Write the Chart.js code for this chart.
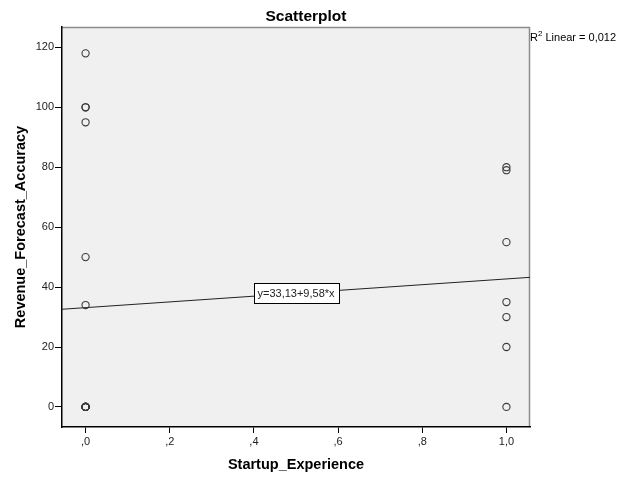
<!DOCTYPE html>
<html lang="en">
<head>
    <meta charset="UTF-8">
    <title>Scatterplot</title>
    <script src="https://cdn.jsdelivr.net/npm/chart.js"></script>
    <style>
        html, body { margin: 0; padding: 0; background: #fff; }
        #wrap { width: 628px; height: 477px; }
    </style>
</head>
<body>
    <div id="wrap"><canvas id="scatter-chart" width="628" height="477"></canvas></div>

    <script>
        // Startup_Experience (0 / 1) and Revenue_Forecast_Accuracy per case
        const startupExperience = [0, 0, 0, 0, 0, 0, 0, 0, 0, 0, 0, 0, 0, 0, 0,
                                   1, 1, 1, 1, 1, 1, 1];
        const forecastAccuracy  = [118, 100, 100, 95, 50, 34, 0, 0, 0, 0, 0, 0, 0, 0, 0,
                                   80, 79, 55, 35, 30, 20, 0];

        const xTickValues = [0, 0.2, 0.4, 0.6, 0.8, 1.0];
        const xTickLabels = [',0', ',2', ',4', ',6', ',8', '1,0'];
        const yTickValues = [0, 20, 40, 60, 80, 100, 120];

        const xMin = -0.056, xMax = 1.056;
        const yMin = -6.7, yMax = 126.8;

        // least squares fit
        function linearFit(xs, ys) {
            const n = xs.length;
            const mx = xs.reduce((a, b) => a + b, 0) / n;
            const my = ys.reduce((a, b) => a + b, 0) / n;
            let sxy = 0, sxx = 0, syy = 0;
            for (let i = 0; i < n; i++) {
                sxy += (xs[i] - mx) * (ys[i] - my);
                sxx += (xs[i] - mx) ** 2;
                syy += (ys[i] - my) ** 2;
            }
            const b = sxy / sxx;
            return { a: my - b * mx, b: b, r2: (sxy * sxy) / (sxx * syy) };
        }

        const fit = linearFit(startupExperience, forecastAccuracy);
        const comma = (v, d) => v.toFixed(d).replace('.', ',');
        const eqText = 'y=' + comma(fit.a, 2) + '+' + comma(fit.b, 2) + '*x';
        const r2Text = comma(fit.r2, 3);

        const points = startupExperience.map((x, i) => ({ x: x, y: forecastAccuracy[i] }));
        const fitLine = [xMin, xMax].map(x => ({ x: x, y: fit.a + fit.b * x }));

        const FONT = '"Liberation Sans", Arial, sans-serif';

        const decorations = {
            id: 'decorations',
            beforeDraw(chart) {
                const { ctx, chartArea: a } = chart;
                ctx.save();
                ctx.fillStyle = '#f0f0f0';
                ctx.fillRect(a.left, a.top, a.right - a.left, a.bottom - a.top);
                ctx.strokeStyle = '#8c8c8c';
                ctx.lineWidth = 1.5;
                ctx.beginPath();
                ctx.moveTo(a.left, a.top + 0.5);
                ctx.lineTo(a.right - 0.5, a.top + 0.5);
                ctx.lineTo(a.right - 0.5, a.bottom);
                ctx.stroke();
                ctx.restore();
            },
            afterDraw(chart) {
                const { ctx, chartArea: a, scales } = chart;
                const cx = (a.left + a.right) / 2;
                ctx.save();
                ctx.fillStyle = '#000';

                ctx.font = 'bold 15.5px ' + FONT;
                ctx.textAlign = 'center';
                ctx.textBaseline = 'alphabetic';
                ctx.fillText('Scatterplot', 306, 21);

                ctx.font = 'bold 14.5px ' + FONT;
                ctx.fillText('Startup_Experience', cx, 469);

                ctx.save();
                ctx.translate(24.5, (a.top + a.bottom) / 2);
                ctx.rotate(-Math.PI / 2);
                ctx.fillText('Revenue_Forecast_Accuracy', 0, 0);
                ctx.restore();

                // R2 annotation
                ctx.textAlign = 'left';
                ctx.font = '11px ' + FONT;
                ctx.fillText('R', a.right, 41);
                let x = a.right + ctx.measureText('R').width;
                ctx.font = '8px ' + FONT;
                ctx.fillText('2', x, 36);
                x += ctx.measureText('2').width;
                ctx.font = '11px ' + FONT;
                ctx.fillText(' Linear = ' + r2Text, x, 41);

                // equation box on the fit line
                const ex = scales.x.getPixelForValue(0.5);
                const ey = scales.y.getPixelForValue(fit.a + fit.b * 0.5);
                ctx.font = '11px ' + FONT;
                const w = Math.round(ctx.measureText(eqText).width + 8);
                const h = 20;
                const bx = Math.round(ex - w / 2) + 0.5, by = Math.round(ey - h / 2) + 0.5;
                ctx.fillStyle = '#fff';
                ctx.fillRect(bx, by, w, h);
                ctx.strokeStyle = '#000';
                ctx.lineWidth = 1;
                ctx.strokeRect(bx, by, w, h);
                ctx.fillStyle = '#222';
                ctx.textAlign = 'center';
                ctx.textBaseline = 'middle';
                ctx.fillText(eqText, ex, ey + 1);
                ctx.restore();
            }
        };

        new Chart(document.getElementById('scatter-chart'), {
            type: 'scatter',
            data: {
                datasets: [{
                    type: 'line',
                    data: fitLine,
                    borderColor: '#222',
                    borderWidth: 1,
                    pointRadius: 0,
                    fill: false,
                    order: 2
                }, {
                    data: points,
                    pointStyle: 'circle',
                    pointRadius: 3.6,
                    borderColor: '#3a3a3a',
                    borderWidth: 1.1,
                    backgroundColor: 'rgba(0,0,0,0)',
                    order: 1
                }]
            },
            options: {
                responsive: false,
                animation: false,
                layout: { padding: { top: 27, right: 98, left: 0, bottom: 0 } },
                plugins: {
                    legend: { display: false },
                    tooltip: { enabled: false }
                },
                scales: {
                    x: {
                        type: 'linear',
                        min: xMin,
                        max: xMax,
                        afterBuildTicks: s => { s.ticks = xTickValues.map(v => ({ value: v })); },
                        afterFit: s => { s.height = 50; },
                        grid: { drawOnChartArea: false, tickLength: 6, color: '#000', tickWidth: 1 },
                        border: { color: '#000', width: 1.5 },
                        ticks: {
                            padding: 2,
                            color: '#222',
                            font: { family: FONT, size: 11 },
                            callback: v => xTickLabels[xTickValues.indexOf(v)]
                        }
                    },
                    y: {
                        min: yMin,
                        max: yMax,
                        afterBuildTicks: s => { s.ticks = yTickValues.map(v => ({ value: v })); },
                        afterFit: s => { s.width = 62; },
                        grid: { drawOnChartArea: false, tickLength: 7, color: '#000', tickWidth: 1 },
                        border: { color: '#000', width: 1.5 },
                        ticks: {
                            padding: 1,
                            color: '#222',
                            font: { family: FONT, size: 11 }
                        }
                    }
                }
            },
            plugins: [decorations]
        });
    </script>
</body>
</html>
